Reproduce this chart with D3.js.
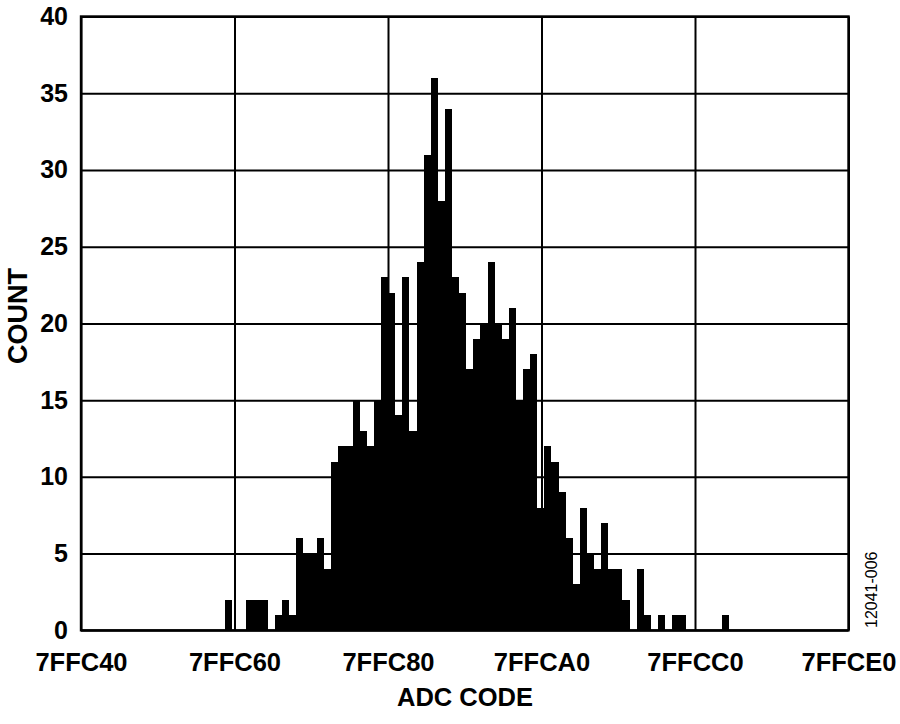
<!DOCTYPE html>
<html>
<head>
<meta charset="utf-8">
<script src="https://cdn.jsdelivr.net/npm/d3@7/dist/d3.min.js"></script>
<style>
  html, body { margin: 0; padding: 0; background: #fff; }
  svg { display: block; }
</style>
</head>
<body>
<svg id="chart" width="900" height="724"></svg>
<script>
// ---- data ----
const xTicks = [0x7FFC40, 0x7FFC60, 0x7FFC80, 0x7FFCA0, 0x7FFCC0, 0x7FFCE0];
const yTicks = [0, 5, 10, 15, 20, 25, 30, 35, 40];
const binStart = 0x7FFC40 + 30;   // first histogram bin (ADC code)
const binWidth = 1.48;            // codes per histogram bin
const counts = [2,0,0,2,2,2,0,1,2,1,6,5,5,6,4,11,12,12,15,13,12,15,23,22,14,23,
                13,24,31,36,28,34,23,22,17,19,20,24,20,19,21,15,17,18,8,12,11,9,
                6,3,8,5,4,7,4,4,2,0,4,1,0,1,0,1,1,0,0,0,0,0,1];
const xTitle = "ADC CODE";
const yTitle = "COUNT";
const figId = "12041-006";

// ---- layout ----
const pLeft = 81, pRight = 848.5, pTop = 16.5, pBottom = 630.3;
const svg = d3.select("#chart");
const x = d3.scaleLinear().domain([xTicks[0], xTicks[xTicks.length - 1]]).range([pLeft, pRight]);
const y = d3.scaleLinear().domain([0, 40]).range([pBottom, pTop]);
const font = "'Liberation Sans', Arial, Helvetica, sans-serif";

// bars
const bins = counts.map((c, i) => ({ x0: binStart + i * binWidth, x1: binStart + (i + 1) * binWidth, c }));
svg.append("g").attr("shape-rendering", "crispEdges")
  .selectAll("rect").data(bins.filter(d => d.c > 0)).join("rect")
  .attr("x", d => x(d.x0))
  .attr("width", d => x(d.x1) - x(d.x0))
  .attr("y", d => y(d.c))
  .attr("height", d => y(0) - y(d.c))
  .attr("fill", "#000");

// x axis with vertical grid
const xAxis = d3.axisBottom(x).tickValues(xTicks)
  .tickFormat(d => d.toString(16).toUpperCase())
  .tickSizeInner(-(pBottom - pTop)).tickSizeOuter(0).tickPadding(23);
const gx = svg.append("g").attr("transform", `translate(0,${pBottom})`).call(xAxis);
gx.select(".domain").remove();
gx.selectAll("line").attr("stroke", "#000").attr("stroke-width", 2);
gx.selectAll("text").attr("fill", "#000").style("font-family", font)
  .style("font-weight", "bold").style("font-size", "25.5px");

// y axis with horizontal grid
const yAxis = d3.axisLeft(y).tickValues(yTicks)
  .tickSizeInner(-(pRight - pLeft)).tickSizeOuter(0).tickPadding(13);
const gy = svg.append("g").attr("transform", `translate(${pLeft},0)`).call(yAxis);
gy.select(".domain").remove();
gy.selectAll("line").attr("stroke", "#000").attr("stroke-width", 2);
gy.selectAll("text").attr("fill", "#000").style("font-family", font)
  .style("font-weight", "bold").style("font-size", "25px");

// frame
svg.append("rect").attr("x", pLeft).attr("y", pTop)
  .attr("width", pRight - pLeft).attr("height", pBottom - pTop)
  .attr("fill", "none").attr("stroke", "#000").attr("stroke-width", 2.4);

// titles
svg.append("text").attr("x", 465).attr("y", 706)
  .attr("text-anchor", "middle").style("font-family", font)
  .style("font-weight", "bold").style("font-size", "25.5px").text(xTitle);

svg.append("text").attr("transform", `translate(27,316) rotate(-90)`)
  .attr("text-anchor", "middle").style("font-family", font)
  .style("font-weight", "bold").style("font-size", "27px").text(yTitle);

svg.append("text").attr("transform", `translate(877,628) rotate(-90)`)
  .attr("text-anchor", "start").style("font-family", font)
  .style("font-size", "16px").text(figId);
</script>
</body>
</html>
